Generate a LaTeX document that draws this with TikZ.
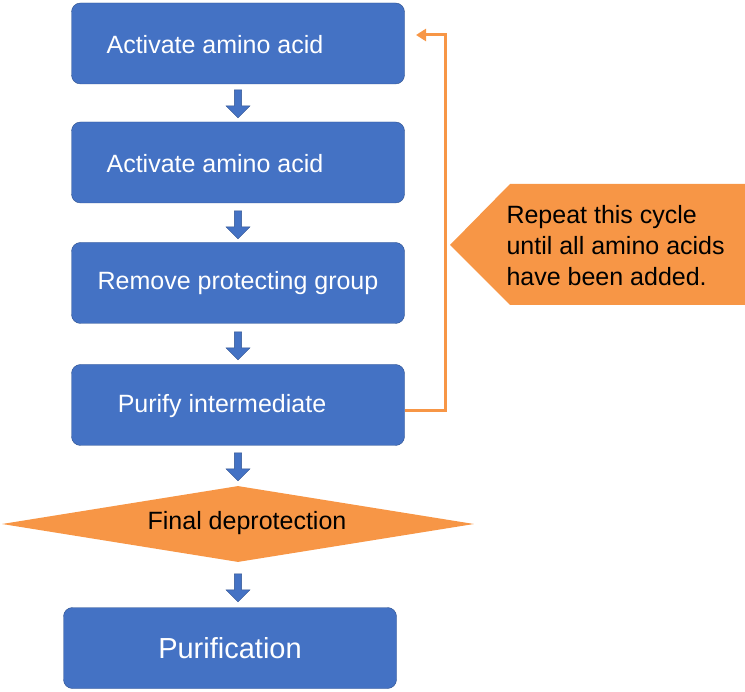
\documentclass[tikz,border=0pt]{standalone}
\usepackage{fontspec}
\setmainfont{Liberation Sans}
\usetikzlibrary{shapes.geometric, shapes.arrows, arrows.meta}
\definecolor{boxblue}{HTML}{4472C4}
\definecolor{edgeblue}{HTML}{2F528F}
\definecolor{calloutorange}{HTML}{F79646}
\tikzset{
  stage/.style={draw=edgeblue, fill=boxblue, rounded corners=9pt, minimum width=333pt,
    minimum height=81pt, text=white, font=\fontsize{25}{30}\selectfont},
  stagetext/.style={text=white, font=\fontsize{25}{30}\selectfont},
  down/.style={single arrow, draw=edgeblue, fill=boxblue, rotate=270, minimum height=28pt,
    minimum width=24pt, single arrow head extend=5pt, inner sep=2pt},
}
\begin{document}
\begin{tikzpicture}[x=1pt, y=-1pt]
        \useasboundingbox (0,0) rectangle (745,692);
        % steps of the cycle
        \node[stage] (act1) at (238,43.5) {};
        \node[stagetext] (act1t) at (215,45) {Activate amino acid};
        \node[stage] (act2) at (238,162.5) {};
        \node[stagetext] (act2t) at (215,164) {Activate amino acid};
        \node[stage] (remove) at (238,283) {Remove protecting group};
        \node[stage] (purify) at (238,405) {};
        \node[stagetext] (purifyt) at (222,406) {Purify intermediate};
        \node[diamond, fill=calloutorange, aspect=6.2, minimum width=472pt, minimum height=76pt,
          inner sep=0pt] (final) at (238,524) {};
        \node[font=\fontsize{25}{30}\selectfont] (finalt) at (247,523) {Final deprotection};
        \node[stage, font=\fontsize{29}{34}\selectfont] (purification) at (230,648) {Purification};

        % block arrows between steps
        \node[down] (d1) at (238,102) {};
        \node[down] (d2) at (238,223) {};
        \node[down] (d3) at (238,344) {};
        \node[down] (d4) at (238,465) {};
        \node[down] (d5) at (238,586) {};

        % loop back to the start
        \coordinate (loopb) at (445,411);
        \coordinate (loopt) at (445,35);
        \coordinate (looptip) at (416,35);
        \draw[calloutorange, line width=3pt, -{Triangle[length=10pt, width=12pt]}]
          (purify.east |- loopb) -- (loopb) -- (loopt) -- (looptip);

        % callout
        \fill[calloutorange] (450,245) -- (510,184) -- (745,184) -- (745,305) -- (510,305) -- cycle;
        \node[align=left, anchor=west, font=\fontsize{25}{31}\selectfont] (note) at (503,246)
          {Repeat this cycle\\until all amino acids\\have been added.};
\end{tikzpicture}
\end{document}
